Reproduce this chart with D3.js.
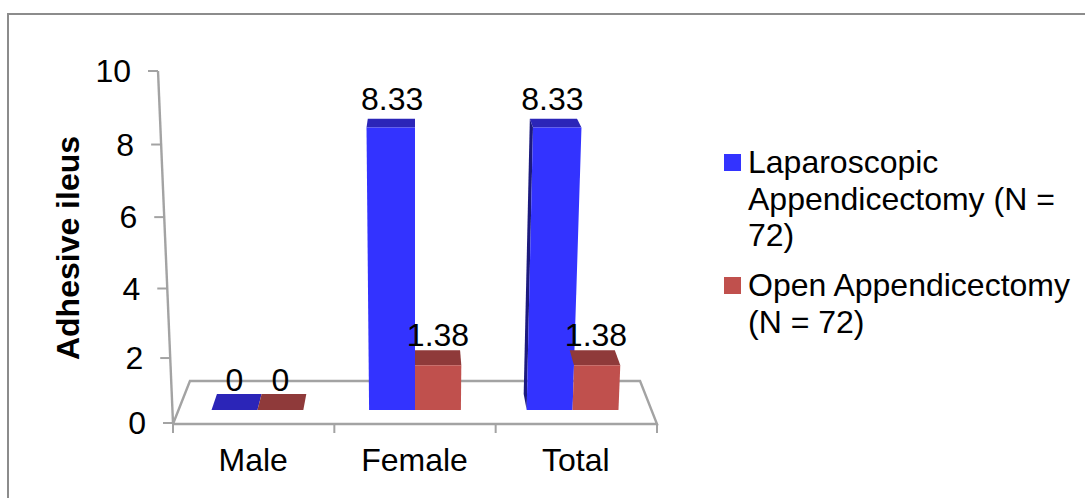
<!DOCTYPE html>
<html>
<head>
<meta charset="utf-8">
<script src="https://cdn.jsdelivr.net/npm/d3@7"></script>
<style>
html, body { margin: 0; padding: 0; background: #fff; overflow: hidden; }
text { font-family: "Liberation Sans", Arial, sans-serif; fill: #000; }
</style>
</head>
<body>
<svg id="chart" width="1085" height="498"></svg>
<script>
// Adhesive ileus rate by sex and surgical approach
const categories = ["Male", "Female", "Total"];
const laparoscopic = [0, 8.33, 8.33];
const open = [0, 1.38, 1.38];
const valueTicks = [0, 2, 4, 6, 8, 10];
const legendLines = [["Laparoscopic", "Appendicectomy (N =", "72)"], ["Open Appendicectomy", "(N = 72)"]];

const faces = [
  { front: "#3333ff", top: "#2b25b8", side: "#1c1a7e" },
  { front: "#c0504d", top: "#8f3a3a", side: "#7d2f2d" }
];
const gridGrey = "#a3a3a3";
const fontSize = 32;

const svg = d3.select("#chart");
const floorFrontY = 424, floorBackY = 381;
const floorDepth = floorFrontY - floorBackY;
const barDepthFront = 14 / floorDepth, barDepthBack = 30 / floorDepth;
const vanishX = 415;

// Slightly bowed value scales: the 3D view compresses the low end of the wall.
const axisY = d3.scalePow().exponent(1.05).domain([0, 10]).range([floorFrontY - 1, 71]);
const barH = d3.scalePow().exponent(1.024).domain([0, 10]).range([0, 340.5]);
const xCat = d3.scaleBand().domain(categories).range([173, 657]);
const xSeries = d3.scaleBand().domain([0, 1]).range([-47, 47]);

// Projects a floor x, a height above the floor and a depth (0 front, 1 back) to the page.
function project(x, h, depth) {
  const spread = (1 + 0.0002 * h) * Math.pow(0.93, depth);
  const baseY = floorFrontY - barDepthFront * floorDepth;
  return [vanishX + (x - vanishX) * spread, baseY - h - (depth - barDepthFront) * floorDepth * (1 - h / 640)];
}

const outline = d3.line();

// Outer chart frame, open past the right and bottom page edges
svg.append("rect").attr("x", 8).attr("y", 14).attr("width", 1200).attr("height", 600)
  .attr("fill", "none").attr("stroke", "#8c8c8c").attr("stroke-width", 2);

// Floor outline
const floorLeft = xCat.range()[0], floorRight = xCat.range()[1];
const backX = x => vanishX + (x - vanishX) * 0.93;
svg.append("path")
  .attr("d", outline([[floorLeft, floorFrontY], [backX(floorLeft), floorBackY], [backX(floorRight), floorBackY], [floorRight, floorFrontY], [floorLeft, floorFrontY]]))
  .attr("fill", "none").attr("stroke", gridGrey).attr("stroke-width", 2.4);

// Value axis follows the leaning wall edge
const wallX = v => floorLeft - 15 * (axisY(0) - axisY(v)) / (axisY(0) - axisY(10));
svg.append("path")
  .attr("d", outline([[wallX(0), axisY(0)], [wallX(10), axisY(10)]]))
  .attr("fill", "none").attr("stroke", gridGrey).attr("stroke-width", 2.4);
const yTicks = svg.append("g").selectAll("g").data(valueTicks).join("g");
yTicks.append("line")
  .attr("x1", d => wallX(d) - 10).attr("x2", d => wallX(d))
  .attr("y1", d => axisY(d)).attr("y2", d => axisY(d))
  .attr("stroke", gridGrey).attr("stroke-width", 2);
yTicks.append("text")
  .attr("x", d => wallX(d) - 27).attr("y", d => axisY(d))
  .attr("dy", "0.35em").attr("text-anchor", "end").attr("font-size", fontSize)
  .text(d => d);

// Category ticks and labels
const catEdges = [...categories.map(c => xCat(c)), floorRight];
svg.append("g").selectAll("line").data(catEdges).join("line")
  .attr("x1", d => d).attr("x2", d => d).attr("y1", floorFrontY).attr("y2", floorFrontY + 9)
  .attr("stroke", gridGrey).attr("stroke-width", 2);
svg.append("g").selectAll("text").data(categories).join("text")
  .attr("x", d => xCat(d) + xCat.bandwidth() / 2 - 0.5).attr("y", 471)
  .attr("text-anchor", "middle").attr("font-size", fontSize).text(d => d);

// Rotated value-axis title
svg.append("text")
  .attr("transform", "translate(79,248) rotate(-90)")
  .attr("text-anchor", "middle").attr("font-size", fontSize).attr("font-weight", "bold")
  .text("Adhesive ileus");

// One record per bar, drawn left to right so neighbours overlap correctly
const bars = [];
categories.forEach((c, i) => {
  [laparoscopic[i], open[i]].forEach((value, s) => {
    bars.push({ category: c, s, value });
  });
});

const poly = pts => outline(pts) + "Z";
const barCentre = d => xCat(d.category) + xCat.bandwidth() / 2 + xSeries(d.s) + xSeries.bandwidth() / 2;
const barGroups = svg.append("g").selectAll("g").data(bars).join("g");
barGroups.each(function (d) {
  const g = d3.select(this);
  const x0 = barCentre(d) - xSeries.bandwidth() / 2, x1 = x0 + xSeries.bandwidth();
  const h = barH(d.value);
  const fb = [project(x0, 0, barDepthFront), project(x1, 0, barDepthFront)];
  const ft = [project(x0, h, barDepthFront), project(x1, h, barDepthFront)];
  const bt = [project(x0, h, barDepthBack), project(x1, h, barDepthBack)];
  const bb = project(x0, 0, barDepthBack);
  // The left face shows only on the first bar right of the viewpoint's centre
  if (d.s === 0 && d.value > 0 && x0 > vanishX) {
    g.append("path").attr("d", poly([ft[0], bt[0], bb, fb[0]])).attr("fill", faces[d.s].side);
  }
  g.append("path").attr("d", poly([ft[0], ft[1], bt[1], bt[0]])).attr("fill", faces[d.s].top);
  g.append("path").attr("d", poly([fb[0], fb[1], ft[1], ft[0]])).attr("fill", faces[d.s].front);
});

// Value labels sit above each bar top, centred on its front face
barGroups.append("text")
  .attr("x", d => project(barCentre(d), barH(d.value) * 0.3, barDepthFront)[0] + (d.value > 5 ? 0.5 : 0))
  .attr("y", d => {
    const h = barH(d.value);
    return project(0, h, barDepthBack)[1] - (3.5 + h * 0.02);
  })
  .attr("text-anchor", "middle").attr("font-size", fontSize)
  .text(d => d.value);

// Legend
const legend = svg.append("g");
const legendTop = [162, 285];
legendLines.forEach((lines, s) => {
  legend.append("rect").attr("x", 724).attr("y", legendTop[s] - 8).attr("width", 17).attr("height", 17)
    .attr("fill", faces[s].front);
  legend.selectAll(null).data(lines).join("text")
    .attr("x", 748).attr("y", (d, i) => legendTop[s] + 11 + i * 36.5)
    .attr("font-size", fontSize).text(d => d);
});
</script>
</body>
</html>
